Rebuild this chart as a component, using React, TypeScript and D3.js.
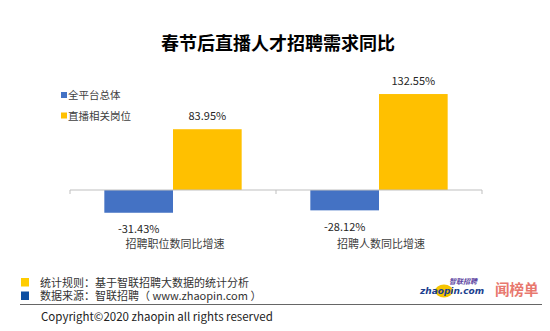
import React from "react";
import * as d3 from "d3";

const title = "春节后直播人才招聘需求同比";
const categories = ["招聘职位数同比增速", "招聘人数同比增速"];
const seriesNames = ["全平台总体", "直播相关岗位"];
const seriesColors = ["#4472C4", "#FFC000"];
const overallValues = [-31.43, -28.12];
const liveValues = [83.95, 132.55];
const footerLines = ["统计规则：基于智联招聘大数据的统计分析", "数据来源：智联招聘（ www.zhaopin.com ）"];
const footerColors = ["#FFCC00", "#0B4EA2"];
const copyright = "Copyright©2020 zhaopin all rights reserved";

const FONT = "'Microsoft YaHei', 'Noto Sans CJK SC', sans-serif";

export default function App() {
  const W = 550, H = 331;
  const x0 = d3.scaleBand<string>().domain(categories).range([70, 482]).padding(0);
  const x1 = d3.scaleBand<string>().domain(seriesNames).range([0, x0.bandwidth()]).paddingOuter(0.5).paddingInner(0);
  const y = d3.scaleLinear().domain([-50, 150]).range([190 + 50 * 0.724, 190 - 150 * 0.724]);
  const seriesValues = [overallValues, liveValues];
  const fmt = (v: number) => v.toFixed(2) + "%";
  const ticks = [...categories.map((c) => x0(c)!), x0.range()[1]];

  return (
    <svg width={W} height={H} style={{ display: "block", position: "absolute", left: 0, top: 0, background: "#fff" }} fontFamily={FONT}>
      <rect x={0} y={0} width={W} height={H} fill="#fff" />
      <text x={278} y={50} textAnchor="middle" fontSize={18} fontWeight="bold" fill="#000">{title}</text>

      {seriesNames.map((s, i) => (
        <g key={s} transform={`translate(61, ${95 + i * 20.5})`}>
          <rect x={0} y={-3} width={6} height={6} fill={seriesColors[i]} />
          <text x={7} y={4} fontSize={10.5} fill="#404040">{s}</text>
        </g>
      ))}

      {categories.map((c, ci) => (
        <g key={c}>
          {seriesNames.map((s, si) => {
            const v = seriesValues[si][ci];
            const bx = x0(c)! + x1(s)!;
            const top = Math.min(y(v), y(0));
            const h = Math.abs(y(v) - y(0));
            return (
              <g key={s}>
                <rect x={bx} y={top} width={x1.bandwidth()} height={h} fill={seriesColors[si]} />
                <text x={bx + x1.bandwidth() / 2} y={v >= 0 ? y(v) - 9 : y(v) + 20.5} textAnchor="middle" fontSize={11} fill="#262626">{fmt(v)}</text>
              </g>
            );
          })}
          <text x={x0(c)! + x0.bandwidth() / 2 + 2} y={247.5} textAnchor="middle" fontSize={11} fill="#404040">{c}</text>
        </g>
      ))}

      <line x1={x0.range()[0]} x2={x0.range()[1]} y1={y(0)} y2={y(0)} stroke="#BFBFBF" strokeWidth={1} />
      {ticks.map((t, i) => (
        <line key={i} x1={t} x2={t} y1={y(0)} y2={y(0) + 4} stroke="#BFBFBF" strokeWidth={1} />
      ))}

      {footerLines.map((l, i) => (
        <rect key={i} x={21} y={278 + i * 13.5} width={8} height={8.5} fill={footerColors[i]} />
      ))}
      <text fontSize={11} fill="#333">
        {footerLines.map((l, i) => (
          <tspan key={i} x={40} y={286.5 + i * 13.5}>{l}</tspan>
        ))}
      </text>
      <line x1={20} x2={542} y1={304.5} y2={304.5} stroke="#666" strokeWidth={1} />
      <text x={41} y={321} fontSize={11.5} fill="#222" fontFamily="'Noto Sans CJK SC', sans-serif">{copyright}</text>

      <g>
        <ellipse cx={444} cy={291} rx={9} ry={6.5} fill="#F5C400" />
        <text x={420} y={294} fontSize={9} fontWeight="bold" fontStyle="italic" fill="#1B3F8F" fontFamily="'DejaVu Sans', sans-serif">zhaopin.com</text>
        <text x={449} y={284} fontSize={7} fontWeight="bold" fontStyle="italic" fill="#5B3FA0">智联招聘</text>
        <text x={495} y={295} fontSize={14.5} fill="#E8786E" fontWeight="bold">闻榜单</text>
      </g>
    </svg>
  );
}
